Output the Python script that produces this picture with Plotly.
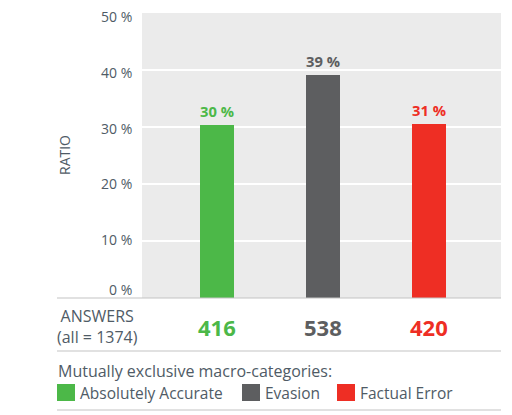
import plotly.graph_objects as go

# data
categories = ['Absolutely Accurate', 'Evasion', 'Factual Error']
answers = [416, 538, 420]
total = 1374
ratios = [a / total for a in answers]
colors = ['#4cb848', '#5d5e60', '#ee2e24']
tick_vals = [0, 0.1, 0.2, 0.3, 0.4, 0.5]
tick_text = ['0 %', '10 %', '20 %', '30 %', '40 %', '50 %']
tick_shift = [9, 2, 1, -1, -2, -3]  # px the label sits above(+)/below(-) its gridline

# the page body has an 8px margin, so the figure is made 8px smaller
OFF = 8
W, H = 512 - OFF, 415 - OFF
L, R, T, B = 142 - OFF, 11, 13 - OFF, 117
TXT = '#4f5b66'
FONT = 'Open Sans'


def px_x(px):
    # screenshot pixel -> paper x
    return (px - OFF - L) / (W - L - R)


def px_y(py):
    # screenshot pixel -> paper y
    return (H - B - (py - OFF)) / (H - T - B)


fig = go.Figure()
fig.add_trace(go.Bar(
    x=list(range(len(categories))), y=ratios,
    width=0.32,
    marker=dict(color=colors, line=dict(width=0)),
    text=['%d %%' % round(r * 100) for r in ratios],
    textposition='outside',
    textfont=dict(family=FONT, size=16, color=colors, weight='bold'),
    cliponaxis=False,
    hoverinfo='skip',
))

annotations = []
shapes = []

# y tick labels
for v, t, s in zip(tick_vals, tick_text, tick_shift):
    annotations.append(dict(text=t, x=px_x(134), y=v, xref='paper', yref='y', yshift=s,
                            xanchor='right', yanchor='middle', showarrow=False,
                            font=dict(family=FONT, size=14, color=TXT)))

# RATIO title
annotations.append(dict(text='RATIO', x=px_x(64), y=px_y(155), xref='paper', yref='paper',
                        textangle=-90, showarrow=False, xanchor='center', yanchor='middle',
                        font=dict(family=FONT, size=14, color=TXT)))

# answers row
annotations.append(dict(text='ANSWERS<br>(all = %d)' % total, x=px_x(97), y=px_y(326),
                        xref='paper', yref='paper', showarrow=False, align='center',
                        xanchor='center', yanchor='middle',
                        font=dict(family=FONT, size=16, color=TXT)))
for i, (a, c) in enumerate(zip(answers, colors)):
    annotations.append(dict(text='<b>%d</b>' % a, x=i, y=px_y(327), xref='x', yref='paper',
                            showarrow=False, xanchor='center', yanchor='middle',
                            font=dict(family=FONT, size=22, color=c)))

# separator lines
for py in [298, 351, 410]:
    shapes.append(dict(type='line', xref='paper', yref='paper', x0=px_x(57), x1=1,
                       y0=px_y(py), y1=px_y(py), line=dict(color='#c4c4c4', width=1.2)))

# legend
annotations.append(dict(text='Mutually exclusive macro-categories:', x=px_x(56), y=px_y(371),
                        xref='paper', yref='paper', xanchor='left', yanchor='middle',
                        showarrow=False, font=dict(family=FONT, size=16, color=TXT)))
legend_x = [57, 242, 337]
for name, c, lx in zip(categories, colors, legend_x):
    shapes.append(dict(type='rect', xref='paper', yref='paper', x0=px_x(lx), x1=px_x(lx + 18),
                       y0=px_y(401), y1=px_y(384), fillcolor=c, line=dict(width=0)))
    annotations.append(dict(text=name, x=px_x(lx + 21), y=px_y(393), xref='paper', yref='paper',
                            xanchor='left', yanchor='middle', showarrow=False,
                            font=dict(family=FONT, size=15.5, color=TXT)))

fig.update_layout(
    width=W, height=H,
    margin=dict(l=L, r=R, t=T, b=B),
    paper_bgcolor='white', plot_bgcolor='#ebebeb',
    showlegend=False,
    bargap=0,
    xaxis=dict(range=[-0.71, 2.68], showticklabels=False, showgrid=False,
               zeroline=False, fixedrange=True),
    yaxis=dict(range=[0, 0.5], tickvals=tick_vals, showticklabels=False,
               showgrid=True, gridcolor='white', gridwidth=1.5, zeroline=False,
               ticks='', automargin=False, fixedrange=True),
    annotations=annotations,
    shapes=shapes,
)

fig.write_html('out.html')
